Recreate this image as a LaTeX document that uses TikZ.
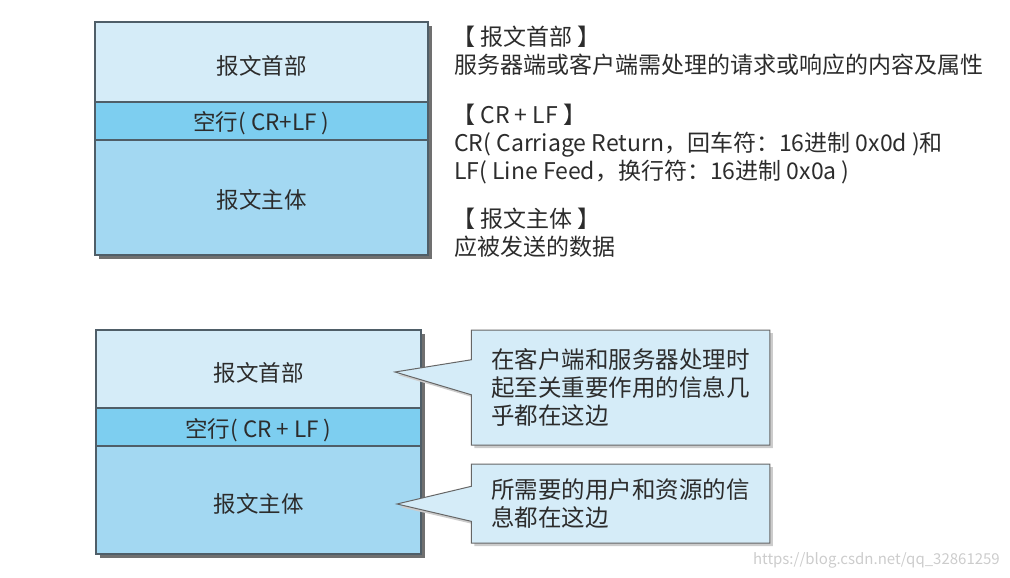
\documentclass[tikz,border=0pt]{standalone}
\usepackage{fontspec}
\setmainfont{Noto Sans CJK SC}
\usetikzlibrary{shapes.callouts,shadows}
\definecolor{hdrc}{HTML}{D5ECF8}
\definecolor{crlfc}{HTML}{7DCEF0}
\definecolor{bodyc}{HTML}{A3D8F2}
\definecolor{edgec}{HTML}{4F5E68}
\definecolor{shadc}{HTML}{707070}
\definecolor{txtc}{HTML}{2C2C2C}
\newcommand{\seclbl}[2][-4pt]{\raisebox{#1}[\height][\depth]{#2}}
\begin{document}
\begin{tikzpicture}[x=1pt,y=-1pt,
  sec/.style={draw=edgec, line width=1.2pt, inner sep=0pt, text=txtc,
    font=\fontsize{22.5}{26}\selectfont},
  info/.style={anchor=base west, inner sep=0pt, text=txtc,
    font=\fontsize{23}{27}\selectfont},
  note/.style={rectangle callout, draw=gray!80!black, line width=1pt, fill=hdrc,
    text=txtc, font=\fontsize{23.5}{28}\selectfont, align=left,
    drop shadow={shadow xshift=3pt, shadow yshift=-3pt, fill=gray!40, opacity=1},
    callout pointer width=35pt, inner xsep=20pt, minimum width=297pt}
]
\useasboundingbox (0,0) rectangle (1010,578);

% top message box
\fill[shadc] (99,26) rectangle (432,259);
\node[sec, fill=hdrc,  minimum width=333pt, minimum height=80pt]  (h1) at (261.5,62)    {\seclbl{报文首部}};
\node[sec, fill=crlfc, minimum width=333pt, minimum height=38pt]  (l1) at (261.5,121)   {\seclbl[-2pt]{空行( CR+LF )}};
\node[sec, fill=bodyc, minimum width=333pt, minimum height=115pt] (b1) at (261.5,197.5) {\seclbl[-2pt]{报文主体}};

% explanations
\node[info] (t1) at (452,46)  {【 报文首部 】};
\node[info] (t2) at (454,74)  {服务器端或客户端需处理的请求或响应的内容及属性};
\node[info] (t3) at (452,124) {【 CR + LF 】};
\node[info] (t4) at (454,151) {CR( Carriage Return，回车符：16进制 0x0d )和};
\node[info] (t5) at (454,179) {LF( Line Feed，换行符：16进制 0x0a )};
\node[info] (t6) at (452,227) {【 报文主体 】};
\node[info] (t7) at (454,255) {应被发送的数据};

% bottom message box
\fill[shadc] (100,334) rectangle (425,558);
\node[sec, fill=hdrc,  minimum width=325pt, minimum height=78pt]  (h2) at (258.5,369) {\seclbl{报文首部}};
\node[sec, fill=crlfc, minimum width=325pt, minimum height=38pt]  (l2) at (258.5,427) {\seclbl[-3pt]{空行( CR + LF )}};
\node[sec, fill=bodyc, minimum width=325pt, minimum height=108pt] (b2) at (258.5,500) {\seclbl{报文主体}};

% callouts
\coordinate (p1) at (395,372);
\coordinate (p2) at (397,504);
\node[note, minimum height=115pt, callout absolute pointer={(p1)}] (c1) at (620.5,387.5)
  {在客户端和服务器处理时\\起至关重要作用的信息几\\乎都在这边};
\node[note, minimum height=79pt, callout absolute pointer={(p2)}] (c2) at (620.5,503.5)
  {所需要的用户和资源的信\\息都在这边};

\node[anchor=base east, inner sep=0pt, text=gray!40, font=\fontsize{15}{18}\selectfont] (wm) at (1000,564)
  {https://blog.csdn.net/qq\_32861259};
\end{tikzpicture}
\end{document}
